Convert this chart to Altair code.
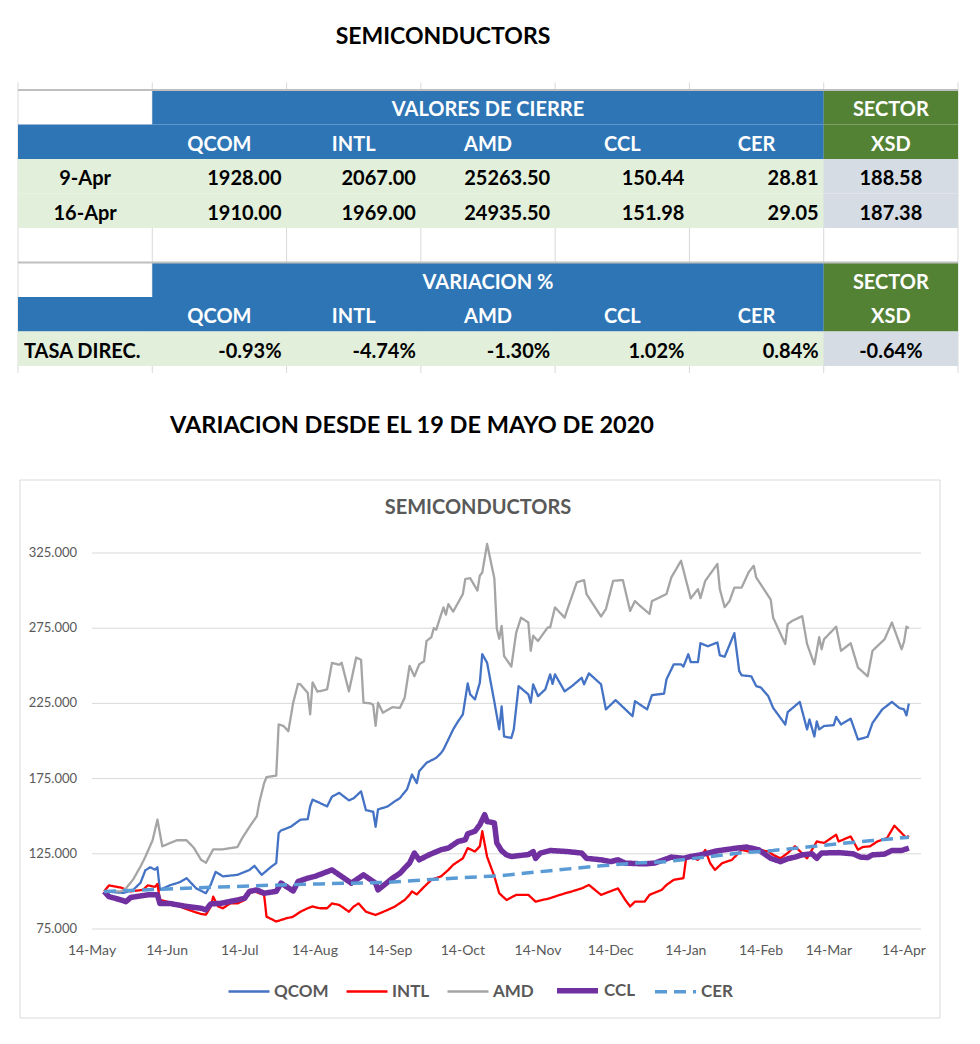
import altair as alt
import pandas as pd

# ---------------- table data ----------------
page_title = "SEMICONDUCTORS"
closing_header = "VALORES DE CIERRE"
variation_header = "VARIACION %"
sector_header = "SECTOR"
sector_ticker = "XSD"
tickers = ["QCOM", "INTL", "AMD", "CCL", "CER"]
close_dates = ["9-Apr", "16-Apr"]
close_9apr = [1928.00, 2067.00, 25263.50, 150.44, 28.81]
close_16apr = [1910.00, 1969.00, 24935.50, 151.98, 29.05]
sector_close = [188.58, 187.38]
variation_label = "TASA DIREC."
variation_pct = [-0.93, -4.74, -1.30, 1.02, 0.84]
sector_variation_pct = -0.64

# ---------------- chart data ----------------
chart_heading = "VARIACION DESDE EL 19 DE MAYO DE 2020"
chart_title = "SEMICONDUCTORS"
series_names = ["QCOM", "INTL", "AMD", "CCL", "CER"]
day_zero = "2020-05-14"   # points below are (days after day_zero, value)

qcom_points = [(5,100),(9,99.5),(13,99),(17,101),(20,105.7),(22,114),(24,116),(26,114.5),(27,116),(28,101),
    (32,104),(36,106),(39,108.8),(43,102),(47,98.8),(49,104.5),(51,113),(54,110),(60,111),(65,114.3),
    (67,117),(70,111),(74,116.5),(76,118.8),(77,138.8),(78,140.5),(82,143),(86,147.7),(89,148),(90,156.5),
    (91,161),(94,158.8),(97,156.5),(99,163),(102,165.5),(106,160.5),(108,162),(111,166.5),(113,154),(116,153),
    (117,143),(118,154.5),(122,156.5),(125,160),(127,162),(130,168),(132,177.7),(134,172),(135,180),(138,185.5),
    (142,188.8),(144,192),(145,194.3),(147,201),(149,207.7),(151,213),(153,217.7),(155,238.3),(156,231),(158,227.7),
    (160,238.8),(161,257.7),(163,252),(166,226),(168,207.7),(169,223),(170,203),(173,202),(174,207.7),(176,236.5),
    (180,231),(181,225.5),(182,237.7),(184,229.8),(187,234.3),(189,244.3),(190,238),(191,244.3),(195,233),(198,236.5),
    (202,242),(203,237.7),(205,245),(210,237.7),(212,221),(216,227.2),(223,216.5),(224,226.5),(226,224.3),(229,221),
    (231,230.5),(236,231.5),(237,241),(240,251),(243,251),(244,249.5),(246,257.7),(247,252.5),(250,252.5),(251,265),
    (254,263),(258,265.5),(259,257),(261,256),(265,271.7),(267,246.5),(268,243.7),(272,243),(274,236.5),(276,235.5),
    (279,229.8),(281,222),(286,211),(287,219.2),(292,226),(295,207.7),(296,214.3),(298,203),(299,213),(300,207.7),
    (302,210),(306,210.5),(307,216),(309,211),(313,214.8),(316,201),(320,202.8),(322,212),(326,221),(330,226),
    (333,222),(335,221),(336,217),(337,225)]

intl_points = [(5,100),(7,104),(12,102.5),(16,100),(21,101),(23,104),(26,103),(27,105),(28,94.3),(34,92),
    (36,90),(42,86.5),(45,85),(47,84.5),(49,90),(50,96.5),(52,90),(54,88.8),(57,92),(60,92),
    (63,94.3),(65,98.8),(67,100),(69,98.8),(71,97.7),(72,83.2),(76,80),(80,82),(83,83.2),(86,86.5),
    (89,88.8),(91,90),(94,88.8),(97,88.8),(99,92),(102,91),(106,86.5),(108,90),(110,92),(113,86.5),
    (117,84.3),(122,87.7),(125,90),(129,94.3),(131,97.7),(132,100),(134,98),(137,103),(140,107.7),(144,110),
    (147,114.3),(149,117.7),(153,122),(155,128.8),(158,126.5),(160,130),(161,140),(163,123),(166,110),(168,98.8),
    (171,94.3),(175,97.7),(180,97.7),(183,93.2),(189,95.5),(193,97.7),(198,100),(202,102),(205,104.3),(210,97.7),
    (217,102),(220,94.3),(222,90),(224,93.2),(228,93.2),(230,97.7),(235,101),(237,104.3),(240,107.7),(244,108.8),
    (245,121),(246,123.2),(250,121),(253,127.5),(255,118.8),(257,114.3),(260,118.8),(264,121),(266,124.3),(268,127.7),
    (271,126.5),(275,127.7),(279,126.5),(281,124.3),(284,122),(287,125.5),(290,130),(295,122),(299,133.2),(302,132.2),
    (307,137.7),(308,133.2),(313,136.5),(316,127.7),(318,129.5),(321,130),(324,133.2),(328,135.5),(331,143.7),(336,135.5),
    (337,137)]

amd_points = [(5,100),(12,100),(14,102),(17,108),(20,116.5),(22,123),(25,134),(27,147.7),(29,130),(32,132),
    (35,134),(39,134),(42,129),(45,121),(47,119),(50,128),(54,128),(60,129.5),(62,135.5),(65,143),
    (68,150),(69,159),(71,172),(72,176),(76,177),(77,211),(79,210),(81,206.5),(83,225.5),(85,238),
    (86,237.7),(89,232),(90,217.7),(91,239),(93,232.8),(97,234.3),(99,252),(102,250.7),(103,252),(106,233),
    (109,255.5),(111,254),(112,225.5),(115,225),(116,224),(117,210),(118,225.5),(120,218.8),(124,222.5),(127,222),
    (129,228.8),(131,250),(133,243),(135,251),(137,253),(138,266.5),(140,269),(141,275),(142,274),(144,284),
    (145,288.8),(146,284),(147,291),(149,286),(153,297.7),(154,307.7),(156,308.3),(159,300),(160,310),(161,312),
    (163,331),(166,308),(167,274.7),(168,268),(169,276.5),(170,256.5),(173,249.5),(175,272),(177,282),(180,278.8),
    (181,260),(182,270),(184,266.5),(188,275.5),(189,275.5),(191,288.8),(195,282),(196,287),(200,305.5),(203,307),
    (204,297.7),(210,282.8),(212,287.7),(215,306.5),(219,307),(222,286.5),(224,293),(226,290),(230,284.5),(231,293),
    (237,297.7),(239,308.8),(243,319.8),(247,294.8),(250,301),(251,295),(253,306.5),(258,317.7),(259,301),(261,289),
    (263,293),(265,302),(268,302),(271,312.5),(273,316.5),(274,308.8),(280,294),(281,282),(286,264.5),(287,277.7),
    (289,280),(293,283),(295,264.5),(298,251),(300,269),(301,261),(302,267.7),(304,271),(307,276),(309,260),
    (313,265),(316,248.8),(320,243),(322,260),(327,267.7),(330,278.8),(334,261),(335,266),(336,276),(337,275)]

ccl_points = [(5,100),(7,96.5),(12,94.3),(14,93.2),(16,96),(23,97.7),(27,97.7),(28,92),(32,92),(39,90),
    (45,88.8),(47,87.7),(49,91.7),(53,92),(60,94.3),(63,95.5),(65,100),(68,101),(71,98.8),(76,100),
    (78,105.5),(83,100.3),(85,106.5),(87,107.7),(89,108.8),(92,110),(99,114.3),(102,111),(105,107.7),(107,105.5),
    (112,111),(117,105.5),(118,101),(124,108.8),(127,112),(129,115.5),(131,118.8),(133,125.5),(135,121),(139,124.3),
    (144,127.7),(147,128.8),(151,133.2),(154,134.3),(155,138.3),(158,140),(160,144.3),(162,151),(163,146.5),(166,145.5),
    (167,132.2),(169,127),(171,124.3),(173,123.2),(180,124.5),(182,126.5),(183,122),(185,125.5),(189,127.2),(196,126.5),
    (202,125.5),(204,122),(210,121),(214,119.8),(217,121),(220,118.8),(228,118.3),(232,118.8),(239,122.8),(244,122),
    (247,123.2),(251,124.3),(255,125.8),(258,127),(266,128.8),(270,129.5),(275,127.7),(280,122),(284,119.8),(287,121.7),
    (290,122.8),(293,124.3),(297,125),(299,122),(301,125.5),(308,125.8),(314,125),(317,122.8),(320,122.5),(322,124.3),
    (327,124.8),(330,127.2),(334,127.2),(337,128.8)]

cer_points = [(5,100),(29,101.5),(66,103.7),(94,105),(122,106),(149,108.8),(169,110.5),(189,113.8),(210,117),
    (224,118.8),(237,119.8),(255,123.2),(267,125.5),(281,127.2),(295,129.5),(308,131.7),(322,133.8),(337,136)]

y_ticks = [75, 125, 175, 225, 275, 325]
y_tick_labels = ["75.000", "125.000", "175.000", "225.000", "275.000", "325.000"]
x_tick_dates = ["2020-05-14", "2020-06-14", "2020-07-14", "2020-08-14", "2020-09-14", "2020-10-14",
                "2020-11-14", "2020-12-14", "2021-01-14", "2021-02-14", "2021-03-14", "2021-04-14"]
x_tick_labels = ["14-May", "14-Jun", "14-Jul", "14-Aug", "14-Sep", "14-Oct",
                 "14-Nov", "14-Dec", "14-Jan", "14-Feb", "14-Mar", "14-Apr"]
x_axis_start = "2020-05-14"
x_axis_end = "2021-04-21"

# ---------------- styles ----------------
FONT = "Lato"
BLUE = "#2E75B6"
GREEN = "#548235"
LIGHT_GREEN = "#E2EFDA"
LIGHT_GRAY = "#D6DCE4"
AXIS_GRAY = "#595959"
series_colors = ["#4472C4", "#FF0000", "#A5A5A5", "#7030A0", "#5B9BD5"]
series_widths = [2.3, 2.3, 2.3, 5.5, 3.5]
series_dash = [[1, 0], [1, 0], [1, 0], [1, 0], [12, 7]]

# ---------------- table ----------------
cells = []
for r in (0, 5):
    cells += [dict(c0=1, c1=6, r0=r, r1=r + 1, fill=BLUE), dict(c0=6, c1=7, r0=r, r1=r + 1, fill=GREEN)]
for r in (1, 6):
    cells += [dict(c0=0, c1=6, r0=r, r1=r + 1, fill=BLUE), dict(c0=6, c1=7, r0=r, r1=r + 1, fill=GREEN)]
for r in (2, 3, 7):
    cells += [dict(c0=0, c1=6, r0=r, r1=r + 1, fill=LIGHT_GREEN),
              dict(c0=6, c1=7, r0=r, r1=r + 1, fill=LIGHT_GRAY)]
cells_df = pd.DataFrame(cells)

center_txt, right_txt, left_txt = [], [], []
for r, head in ((0, closing_header), (5, variation_header)):
    center_txt.append(dict(cx=3.5, ry=r + 0.5, t=head, col="white"))
    center_txt.append(dict(cx=6.5, ry=r + 0.5, t=sector_header, col="white"))
for r in (1, 6):
    for i, tk in enumerate(tickers):
        center_txt.append(dict(cx=i + 1.5, ry=r + 0.5, t=tk, col="white"))
    center_txt.append(dict(cx=6.5, ry=r + 0.5, t=sector_ticker, col="white"))
for k, (d, sc, vals) in enumerate(zip(close_dates, sector_close, (close_9apr, close_16apr))):
    r = 2 + k
    center_txt.append(dict(cx=0.5, ry=r + 0.5, t=d, col="black"))
    center_txt.append(dict(cx=6.5, ry=r + 0.5, t=f"{sc:.2f}", col="black"))
    for i, v in enumerate(vals):
        right_txt.append(dict(cx=i + 2, ry=r + 0.5, t=f"{v:.2f}", col="black"))
center_txt.append(dict(cx=6.5, ry=7.5, t=f"{sector_variation_pct:.2f}%", col="black"))
for i, v in enumerate(variation_pct):
    right_txt.append(dict(cx=i + 2, ry=7.5, t=f"{v:.2f}%", col="black"))
left_txt.append(dict(cx=0, ry=7.5, t=variation_label, col="black"))


def col_scale():
    return alt.Scale(domain=[0, 7], range=[10, 950], nice=False, zero=False)


def row_scale():
    return alt.Scale(domain=[0, 8], range=[82, 358], nice=False, zero=False)


vgrid = alt.Chart(pd.DataFrame({"e": list(range(8)), "ya": [-0.22] * 8, "yb": [8.2] * 8})).mark_rule(
    color="#D9D9D9", strokeWidth=1).encode(
    x=alt.X("e:Q", scale=col_scale(), axis=None),
    y=alt.Y("ya:Q", scale=row_scale(), axis=None), y2="yb:Q")
hgrid = alt.Chart(pd.DataFrame({"e": [0, 5], "xa": [0, 0], "xb": [7, 7]})).mark_rule(
    color="#BFBFBF", strokeWidth=2).encode(
    y=alt.Y("e:Q", scale=row_scale(), axis=None),
    x=alt.X("xa:Q", scale=col_scale(), axis=None), x2="xb:Q")
rects = alt.Chart(cells_df).mark_rect(strokeWidth=0).encode(
    x=alt.X("c0:Q", scale=col_scale(), axis=None), x2="c1:Q",
    y=alt.Y("r0:Q", scale=row_scale(), axis=None), y2="r1:Q",
    color=alt.Color("fill:N", scale=None))


def table_text(rows, align, dx):
    return alt.Chart(pd.DataFrame(rows)).mark_text(
        font=FONT, fontSize=20, fontWeight="bold", align=align, baseline="middle", dx=dx, dy=3
    ).encode(
        x=alt.X("cx:Q", scale=col_scale(), axis=None),
        y=alt.Y("ry:Q", scale=row_scale(), axis=None),
        text="t:N", color=alt.Color("col:N", scale=None))


# ---------------- line chart ----------------
base = pd.Timestamp(day_zero)
frames = []
for name, pts in zip(series_names, [qcom_points, intl_points, amd_points, ccl_points, cer_points]):
    frames.append(pd.DataFrame({
        "date": [(base + pd.Timedelta(days=d)).strftime("%Y-%m-%d") for d, _ in pts],
        "value": [v for _, v in pts],
        "series": name,
    }))
lines_df = pd.concat(frames, ignore_index=True)


def x_scale():
    return alt.Scale(type="utc", domain=[x_axis_start, x_axis_end], range=[84, 913], nice=False)


def y_scale():
    return alt.Scale(domain=[75, 325], range=[921, 545], nice=False, zero=False)


def legend():
    return alt.Legend(orient="none", legendX=219, legendY=959, direction="horizontal", title=None,
                      symbolType="stroke", symbolSize=1681, labelFont=FONT, labelFontSize=17,
                      labelFontWeight="bold", labelColor=AXIS_GRAY, columnPadding=12, labelOffset=3,
                      padding=0)


grid_df = pd.DataFrame({"v": y_ticks, "t": y_tick_labels,
                        "d0": [x_axis_start] * len(y_ticks), "d1": [x_axis_end] * len(y_ticks)})
grid = alt.Chart(grid_df).mark_rule(color="#D9D9D9", strokeWidth=1).encode(
    y=alt.Y("v:Q", scale=y_scale(), axis=None),
    x=alt.X("d0:T", scale=x_scale(), axis=None), x2="d1:T")

lines = alt.Chart(lines_df).mark_line(strokeJoin="round").encode(
    x=alt.X("date:T", scale=x_scale(), axis=None),
    y=alt.Y("value:Q", scale=y_scale(), axis=None),
    color=alt.Color("series:N", scale=alt.Scale(domain=series_names, range=series_colors), legend=legend()),
    strokeWidth=alt.StrokeWidth("series:N", scale=alt.Scale(type="ordinal", domain=series_names,
                                                             range=series_widths), legend=legend()),
    strokeDash=alt.StrokeDash("series:N", scale=alt.Scale(domain=series_names, range=series_dash),
                              legend=legend()),
)

ylabels = alt.Chart(grid_df).mark_text(
    font=FONT, fontSize=13, color=AXIS_GRAY, align="right", baseline="middle", dx=-15
).encode(y=alt.Y("v:Q", scale=y_scale(), axis=None),
         x=alt.X("d0:T", scale=x_scale(), axis=None), text="t:N")

xlab_df = pd.DataFrame({"d": x_tick_dates, "t": x_tick_labels, "v": [y_ticks[0]] * len(x_tick_dates)})
xlabels = alt.Chart(xlab_df).mark_text(
    font=FONT, fontSize=14, color=AXIS_GRAY, align="center", baseline="middle", dy=22
).encode(x=alt.X("d:T", scale=x_scale(), axis=None),
         y=alt.Y("v:Q", scale=y_scale(), axis=None), text="t:N")

# ---------------- static texts / frame ----------------
one = pd.DataFrame({"k": [0]})
frame = alt.Chart(one).mark_rect(fill="white", stroke="#D9D9D9", strokeWidth=1).encode(
    x=alt.value(12), x2=alt.value(932), y=alt.value(472), y2=alt.value(1010))


def label(text, x, y, size, color):
    return alt.Chart(pd.DataFrame({"t": [text]})).mark_text(
        font=FONT, fontSize=size, fontWeight="bold", color=color, align="center", baseline="middle"
    ).encode(x=alt.value(x), y=alt.value(y), text="t:N")


top_title = label(page_title, 435, 29, 23, "black")
heading = label(chart_heading, 404, 418, 23.5, "black")
inner_title = label(chart_title, 470, 500, 20, AXIS_GRAY)

chart = alt.layer(
    frame, top_title, heading, inner_title,
    vgrid, rects, hgrid,
    table_text(center_txt, "center", 0),
    table_text(right_txt, "right", -5),
    table_text(left_txt, "left", 6),
    grid, lines, ylabels, xlabels,
).resolve_scale(
    x="independent", y="independent", color="independent",
    strokeWidth="independent", strokeDash="independent",
).properties(
    width=964, height=1028, padding=0, autosize=alt.AutoSizeParams(type="none")
).configure_view(stroke=None)

chart.save("out.html", embed_options={"renderer": "svg", "actions": False})
